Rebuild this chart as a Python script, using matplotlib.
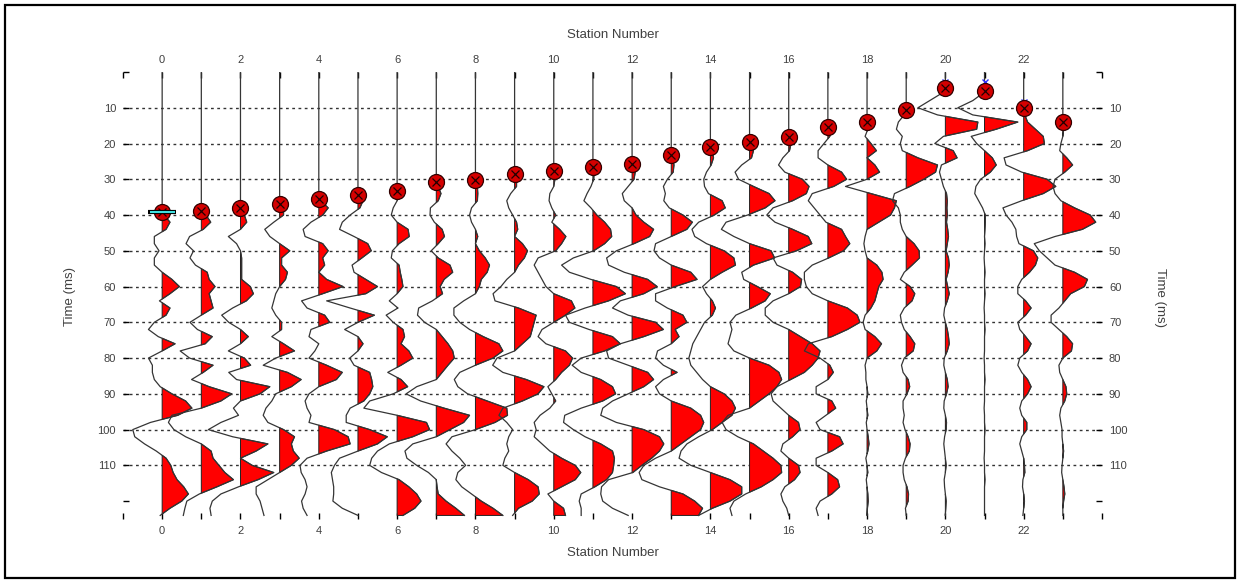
import numpy as np
import matplotlib
matplotlib.use('Agg')
import matplotlib.pyplot as plt
from matplotlib.patches import Rectangle

plt.rcParams['font.family'] = ['Liberation Sans', 'DejaVu Sans']

# sample times (ms), one sample every 2 ms
times = list(range(0, 125, 2))

# trace amplitudes (in station widths)
tr00 = [0, 0, 0, 0, 0, 0, 0, 0, 0, 0,
        0, 0, 0, 0, 0, 0, 0, 0, 0, 0,
        0.05, 0.2, 0.1, -0.2, -0.2, -0.08, -0.2, -0.2, 0, 0.25,
        0.44, 0.2, -0.07, 0.2, 0.1, -0.2, -0.35, -0.1, 0.33, 0,
        -0.35, -0.25, -0.25, -0.2, -0.05, 0.25, 0.6, 0.76, 0.4, -0.3,
        -0.75, -0.7, -0.45, -0.15, 0.1, 0.22, 0.28, 0.38, 0.55, 0.67,
        0.5, 0.2, -0.05]
tr01 = [0, 0, 0, 0, 0, 0, 0, 0, 0, 0,
        0, 0, 0, 0, 0, 0, 0, 0, 0, 0,
        0.12, 0.24, 0.05, -0.3, -0.39, -0.2, -0.29, -0.15, 0.15, 0.2,
        0.35, 0.2, 0.25, 0.3, 0, -0.29, -0.1, 0.28, 0.1, -0.54,
        -0.3, 0.3, 0.05, -0.25, 0.2, 0.78, 0.5, 0, -0.75, -0.84,
        -0.7, -0.4, 0, 0.25, 0.3, 0.45, 0.6, 0.82, 0.4, -0.05,
        -0.37, -0.42, -0.46]
tr02 = [0, 0, 0, 0, 0, 0, 0, 0, 0, 0,
        0, 0, 0, 0, 0, 0, 0, 0, 0, 0,
        0.1, 0.16, 0, -0.31, -0.1, 0, 0.03, 0.03, 0.03, 0.03,
        0.25, 0.33, 0.15, -0.2, -0.48, -0.3, 0, 0.2, 0, -0.31,
        0.1, 0.26, -0.3, -0.1, 0.75, 0.5, 0, -0.18, -0.05, -0.5,
        -0.82, -0.2, 0.7, 0.4, 0, 0.3, 0.85, 0.45, -0.05, -0.5,
        -0.72, -0.78, -0.75]
tr03 = [0, 0, 0, 0, 0, 0, 0, 0, 0, 0,
        0, 0, 0, 0, 0, 0, 0, 0, 0, 0.1,
        0.1, -0.15, -0.38, -0.25, 0, 0.26, 0.05, 0.05, 0.2, 0.15,
        0, -0.1, -0.15, -0.2, -0.1, 0.05, 0.05, -0.2, 0.1, 0.38,
        -0.1, -0.42, 0.2, 0.55, 0.3, -0.1, -0.2, -0.35, -0.42, -0.3,
        0.1, 0.38, 0.3, 0.35, 0.5, 0.3, 0, -0.3, -0.6, -0.6,
        -0.5, -0.45, -0.4]
tr04 = [0, 0, 0, 0, 0, 0, 0, 0, 0, 0,
        0, 0, 0, 0, 0, 0, 0, 0, 0.05, 0.24,
        0.1, -0.2, -0.4, -0.35, 0.1, 0.24, 0.1, 0.15, 0, 0.2,
        0.62, 0.1, -0.44, -0.3, 0.15, 0.28, -0.2, -0.25, 0, -0.1,
        -0.25, 0.2, 0.6, 0.45, 0, -0.25, -0.35, -0.3, -0.2, -0.25,
        0.4, 0.75, 0.8, 0.2, -0.3, -0.48, -0.45, -0.35, -0.3, -0.35,
        -0.44, -0.4, -0.3]
tr05 = [0, 0, 0, 0, 0, 0, 0, 0, 0, 0,
        0, 0, 0, 0, 0, 0, 0, 0, 0.13, 0.05,
        -0.2, -0.4, -0.47, -0.1, 0.25, 0.34, 0.1, -0.15, -0.1, 0.2,
        0.5, 0.2, -0.8, -0.2, 0.42, 0, -0.34, 0, 0.13, 0,
        -0.21, -0.1, 0.3, 0.35, 0.38, 0.3, 0.15, -0.2, -0.3, -0.3,
        0.3, 0.75, 0.5, 0, -0.47, -0.6, -0.68, -0.65, -0.62, -0.62,
        -0.64, -0.4, 0]
tr06 = [0, 0, 0, 0, 0, 0, 0, 0, 0, 0,
        0, 0, 0, 0, 0, 0, 0, 0.05, 0, -0.1,
        -0.15, 0, 0.28, 0.31, 0.05, -0.12, -0.15, 0.05, 0.08, 0.12,
        0.15, 0, -0.2, 0.02, -0.28, -0.1, 0.15, 0.19, 0.1, 0.3,
        0.4, 0.1, -0.24, 0.1, 0.27, -0.1, -0.7, -0.85, 0, 0.75,
        0.83, 0.4, -0.2, -0.5, -0.65, -0.7, -0.4, 0.05, 0.3, 0.5,
        0.61, 0.45, 0.15]
tr07 = [0, 0, 0, 0, 0, 0, 0, 0, 0, 0,
        0, 0, 0, 0, 0, 0, 0.05, 0.12, 0.05, -0.15,
        -0.16, -0.05, 0.15, 0.21, 0.05, -0.13, 0.05, 0.35, 0.42, 0.2,
        0.1, 0.16, -0.1, -0.45, -0.48, -0.3, 0, 0.15, 0.3, 0.42,
        0.46, 0.3, 0.15, 0, -0.5, -0.77, -0.4, 0.2, 0.85, 0.7,
        0.35, 0, -0.6, -0.8, -0.75, -0.5, -0.2, 0, 0.02, 0.05,
        0.25, 0.5, 0.72]
tr08 = [0, 0, 0, 0, 0, 0, 0, 0, 0, 0,
        0, 0, 0, 0, 0, 0, 0.05, 0.06, 0.05, -0.1,
        -0.15, -0.1, 0, 0.06, 0, 0.1, 0.25, 0.36, 0.3, 0.15,
        0.1, 0, -0.3, -0.55, -0.55, -0.4, -0.15, 0.2, 0.6, 0.7,
        0.45, 0, -0.4, -0.54, -0.45, -0.2, 0.3, 0.8, 0.82, 0.5,
        0, -0.6, -0.75, -0.6, -0.4, -0.25, -0.45, -0.5, -0.35, -0.1,
        0.15, 0.45, 0.7]
tr09 = [0, 0, 0, 0, 0, 0, 0, 0, 0, 0,
        0, 0, 0, 0, 0, 0.05, 0.05, -0.1, -0.2, -0.15,
        -0.05, 0.05, 0.08, 0, 0.2, 0.33, 0.25, 0.1, 0, -0.2,
        -0.35, -0.55, -0.5, 0.1, 0.55, 0.5, 0.45, 0.4, 0.2, 0,
        -0.45, -0.56, -0.3, 0.3, 0.75, 0.6, 0.2, -0.3, -0.4, -0.2,
        -0.05, -0.15, -0.2, -0.15, -0.25, -0.3, 0, 0.35, 0.6, 0.63,
        0.45, 0.1, -0.05]
tr10 = [0, 0, 0, 0, 0, 0, 0, 0, 0, 0,
        0, 0, 0, 0, 0.03, 0.03, 0, -0.1, -0.12, -0.05,
        0.05, -0.05, 0.15, 0.31, 0.2, 0.05, -0.4, -0.5, -0.4, -0.3,
        -0.2, 0, 0.45, 0.54, 0.3, 0, -0.3, -0.4, -0.2, 0.3,
        0.48, 0.4, 0.2, 0.05, -0.15, -0.05, 0.05, -0.1, -0.35, -0.5,
        -0.45, -0.5, -0.3, -0.1, 0.2, 0.55, 0.69, 0.55, 0.2, -0.15,
        0, 0.25, 0.3]
tr11 = [0, 0, 0, 0, 0, 0, 0, 0, 0, 0,
        0, 0, 0, 0, 0.03, 0.02, -0.05, -0.15, -0.23, -0.05,
        0.1, 0.3, 0.45, 0.48, 0.3, 0.02, -0.5, -0.8, -0.6, -0.05,
        0.6, 0.83, 0.4, -0.2, -0.7, -0.6, -0.1, 0.5, 0.7, 0.3,
        -0.3, -0.53, -0.3, 0.2, 0.5, 0.58, 0.25, -0.3, -0.72, -0.75,
        -0.5, -0.2, 0.2, 0.5, 0.55, 0.53, 0.5, 0.35, 0.05, -0.3,
        -0.35, -0.3, -0.3]
tr12 = [0, 0, 0, 0, 0, 0, 0, 0, 0, 0,
        0, 0, 0, 0, 0.08, 0.05, -0.1, -0.25, -0.2, 0,
        0.1, 0.3, 0.55, 0.45, 0.05, -0.4, -0.65, -0.6, -0.2, 0.4,
        0.64, 0.3, -0.3, -0.5, -0.1, 0.6, 0.8, 0.3, -0.3, -0.65,
        -0.6, -0.1, 0.4, 0.55, 0.3, -0.1, -0.5, -0.75, -0.8, -0.4,
        0.3, 0.7, 0.81, 0.7, 0.5, 0.25, 0.02, -0.6, -0.78, -0.8,
        -0.75, -0.5, -0.1]
tr13 = [0, 0, 0, 0, 0, 0, 0, 0, 0, 0,
        0, 0, 0.03, 0.07, 0.05, -0.1, -0.2, -0.15, -0.19, -0.05,
        0.3, 0.54, 0.4, 0, -0.4, -0.44, -0.3, 0, 0.5, 0.66,
        0.1, -0.4, -0.4, -0.1, 0.3, 0.4, 0.1, 0.2, 0, -0.35,
        -0.4, -0.2, 0.15, -0.2, -0.4, -0.3, 0, 0.5, 0.75, 0.83,
        0.75, 0.5, 0.25, 0, -0.4, -0.7, -0.82, -0.75, -0.3, 0.3,
        0.6, 0.8, 0.7]
tr14 = [0, 0, 0, 0, 0, 0, 0, 0, 0, 0,
        0, 0.05, 0.08, 0.02, -0.1, -0.17, -0.15, -0.05, 0.3, 0.38,
        0.1, -0.3, -0.47, -0.4, -0.1, 0.35, 0.6, 0.64, 0.3, 0,
        -0.2, -0.1, 0.05, 0.13, 0.05, -0.15, -0.25, -0.35, -0.45, -0.5,
        -0.55, -0.5, -0.35, -0.2, 0, 0.35, 0.55, 0.64, 0.55, 0.3,
        0.05, -0.3, -0.6, -0.75, -0.8, -0.5, 0, 0.5, 0.8, 0.8,
        0.5, 0.05, -0.3]
tr15 = [0, 0, 0, 0, 0, 0, 0, 0, 0, 0,
        0.03, 0.1, 0.05, -0.2, -0.37, -0.28, 0.1, 0.5, 0.65, 0.4,
        -0.05, -0.6, -0.72, -0.4, 0, 0.55, 0.64, 0.1, -0.2, -0.15,
        0.2, 0.53, 0.4, 0.05, -0.35, -0.5, -0.45, -0.5, -0.55, -0.4,
        0, 0.5, 0.75, 0.82, 0.7, 0.5, 0.25, 0, -0.55, -0.7,
        -0.6, -0.3, 0.1, 0.35, 0.6, 0.8, 0.82, 0.6, 0.3, -0.1,
        -0.4, -0.5, -0.45]
tr16 = [0, 0, 0, 0, 0, 0, 0, 0, 0, 0.02,
        0.06, 0.02, -0.15, -0.26, -0.1, 0.35, 0.52, 0.45, 0.1, -0.4,
        -0.56, -0.35, 0.1, 0.5, 0.59, 0.2, -0.4, -0.3, 0.1, 0.33,
        0.3, 0, -0.4, -0.6, -0.6, -0.4, 0, 0.3, 0.6, 0.8,
        0.75, 0.6, 0.4, 0.05, -0.3, -0.45, -0.4, -0.2, 0, 0.25,
        0.29, 0.1, -0.15, -0.2, 0, 0.25, 0.29, 0.15, -0.1, -0.2,
        -0.15, -0.05, 0]
tr17 = [0, 0, 0, 0, 0, 0, 0, 0, 0.03, 0.05,
        -0.1, -0.25, -0.25, 0, 0.35, 0.48, 0.15, -0.4, -0.5, -0.35,
        -0.2, -0.05, 0.35, 0.45, 0.56, 0.4, 0.02, -0.4, -0.6, -0.6,
        -0.55, -0.4, 0, 0.5, 0.75, 0.82, 0.5, 0.1, -0.5, -0.6,
        -0.2, 0.05, 0.14, 0, -0.3, -0.3, 0.1, 0.2, -0.05, -0.3,
        -0.2, 0.3, 0.39, 0.1, -0.3, -0.3, 0, 0.25, 0.3, 0.1,
        -0.2, -0.3, -0.25]
tr18 = [0, 0, 0, 0, 0, 0, 0, 0, 0.02, -0.05,
        0.1, 0.24, 0, 0.2, 0.32, 0, -0.55, 0.1, 0.75, 0.7,
        0.6, 0.3, 0, -0.05, -0.08, -0.05, 0, 0.25, 0.38, 0.41,
        0.3, 0.25, 0.2, 0.1, -0.05, -0.1, -0.05, 0.2, 0.37, 0.25,
        0, -0.05, -0.03, -0.03, 0, 0.02, -0.02, 0, 0.02, -0.02,
        0, 0.03, 0.05, 0.02, -0.03, 0, 0.02, -0.02, 0, 0.02,
        0.03, 0.01, 0]
tr19 = [0, 0, 0, 0, 0, 0, -0.05, -0.2, -0.25, -0.1,
        -0.15, -0.1, 0.3, 0.8, 0.75, 0.45, 0.1, -0.3, -0.35, -0.2,
        -0.15, -0.15, -0.1, 0, 0.2, 0.33, 0.34, 0.15, -0.05, -0.15,
        0.1, 0.22, 0.15, -0.05, -0.15, -0.12, -0.05, 0.1, 0.22, 0.18,
        -0.05, -0.12, -0.08, 0.05, 0.09, 0.02, -0.08, -0.08, -0.05, -0.08,
        -0.03, 0.05, 0.1, 0.08, -0.02, -0.08, -0.08, -0.05, 0.02, 0.06,
        0.05, -0.02, 0]
tr20 = [0, 0, 0, -0.1, -0.4, -0.7, -0.2, 0.83, 0.8, -0.05,
        -0.27, 0.2, 0.3, -0.1, -0.15, -0.1, -0.05, 0.03, 0.05, 0.04,
        0.05, 0.03, 0.06, 0.08, 0.05, 0.02, 0.08, 0.1, 0.07, 0.02,
        0.06, 0.1, 0.05, -0.02, -0.04, 0, 0.05, 0.08, 0.1, 0.05,
        -0.03, -0.04, 0, 0.05, 0.07, 0.03, -0.03, -0.04, 0, 0.03,
        0.02, -0.02, -0.04, -0.02, 0, 0.02, 0, -0.03, -0.02, 0,
        0.02, 0.01, 0]
tr21 = [0, 0, 0, -0.05, -0.3, -0.68, -0.3, 0.85, 0.3, -0.34,
        -0.2, 0, 0.2, 0.3, 0.15, -0.1, -0.22, -0.25, -0.15, -0.05,
        0.02, 0.02, 0.01, 0, 0.01, 0, -0.01, 0, 0.01, 0,
        0, 0.01, 0, -0.01, 0, 0, 0.01, 0, 0, 0,
        -0.01, 0, 0, 0.01, 0, 0, 0, -0.01, 0, 0,
        0.01, 0, 0, 0, -0.01, 0, 0, 0.01, 0, 0,
        0, 0, 0]
tr22 = [0, 0, 0, 0, 0, 0, 0.03, 0.1, 0.3, 0.5,
        0.53, 0.1, -0.5, -0.45, -0.05, 0.6, 0.82, 0.5, -0.05, -0.53,
        -0.45, -0.3, -0.2, -0.18, -0.12, 0.25, 0.36, 0.3, 0.15, -0.05,
        -0.15, -0.15, 0.05, 0.19, 0.05, -0.15, -0.1, 0.05, 0.19, 0.1,
        -0.1, -0.15, -0.05, 0.1, 0.19, 0.1, -0.05, -0.1, -0.05, 0.08,
        0.08, -0.05, -0.1, -0.05, 0, 0.02, 0.03, -0.02, -0.03, 0,
        0.02, 0, -0.02]
tr23 = [0, 0, 0, 0, 0, 0, 0, 0, 0.02, 0,
        -0.05, -0.08, 0.1, 0.25, 0.05, -0.2, -0.25, -0.2, -0.05, 0.3,
        0.7, 0.84, 0.5, -0.2, -0.73, -0.6, -0.4, -0.2, 0.3, 0.63,
        0.55, 0.2, 0.05, -0.1, -0.3, -0.3, -0.1, 0.1, 0.25, 0.22,
        0, -0.1, -0.08, 0, 0.08, 0.1, 0.05, -0.05, -0.08, -0.05,
        -0.02, -0.02, 0, 0.02, 0, -0.02, -0.03, 0, 0.03, 0.05,
        0.02, 0, 0]

traces = [tr00, tr01, tr02, tr03, tr04, tr05, tr06, tr07, tr08, tr09, tr10, tr11,
          tr12, tr13, tr14, tr15, tr16, tr17, tr18, tr19, tr20, tr21, tr22, tr23]
stations = list(range(24))

# first break picks (ms)
picks = [39.1, 38.9, 38.1, 36.9, 35.6, 34.5, 33.2, 30.9, 30.2, 28.5, 27.6, 26.5,
         25.8, 23.3, 20.9, 19.5, 18.1, 15.3, 14.1, 10.6, 4.6, 5.2, 10.2, 13.9]

# small blue marks above a few picks
qc_stations = [20, 21, 22]
qc_times = [2.7, 2.7, 8.4]

grid_times = [10, 20, 30, 40, 50, 60, 70, 80, 90, 100, 110]

fig = plt.figure(figsize=(12.37, 5.83), dpi=100)
ax = fig.add_axes([123 / 1237, 1 - 519 / 583, (1102 - 123) / 1237, (519 - 72) / 583])

t = np.array(times, dtype=float)
for st, amp in zip(stations, traces):
    a = np.array(amp, dtype=float)
    ax.fill_betweenx(t, st, st + a, where=a > 0, interpolate=True,
                     facecolor='red', edgecolor='#202020', lw=0.7, zorder=2)
    ax.plot(st + a, t, color='#353535', lw=0.9, zorder=3)

for g in grid_times:
    ax.axhline(g, color='#333333', lw=1.0, ls=(0, (2, 2.5)), zorder=1)

ax.plot(qc_stations, qc_times, 'x', ms=5, color='#3030ff', mew=1.0, zorder=4)
ax.plot(stations, picks, 'o', ms=11.5, mfc='#d40000', mec='#300000', mew=0.9, zorder=5)
ax.plot(stations, picks, 'x', ms=5.5, color='#200000', mew=0.9, zorder=6)

# cyan cursor on the first trace
ax.plot([stations[0] - 0.35, stations[0] + 0.35], [picks[0], picks[0]],
        color='black', lw=3, zorder=7, solid_capstyle='butt')
ax.plot([stations[0] - 0.32, stations[0] + 0.32], [picks[0], picks[0]],
        color='#40e0e0', lw=1.5, zorder=8, solid_capstyle='butt')

ax.set_xlim(-1, 24)
ax.set_ylim(125, 0)
xt = list(range(-1, 25))
ax.set_xticks(xt)
ax.set_xticklabels([str(v) if (v % 2 == 0 and 0 <= v <= 22) else '' for v in xt])
yt = list(range(0, 121, 10))
ax.set_yticks(yt)
ax.set_yticklabels([str(v) if 0 < v < 120 else '' for v in yt])
ax.tick_params(direction='in', length=4, width=1, top=True, right=True,
               labeltop=True, labelright=True, labelsize=8, labelcolor='#404040', pad=5)
for s in ax.spines.values():
    s.set_visible(False)

tc = '#404040'
fig.text(613 / 1237, 1 - 35 / 583, 'Station Number', ha='center', va='center', fontsize=9.5, color=tc)
fig.text(613 / 1237, 1 - 553 / 583, 'Station Number', ha='center', va='center', fontsize=9.5, color=tc)
fig.text(70 / 1237, 1 - 297 / 583, 'Time (ms)', ha='center', va='center', rotation=90, fontsize=9.5, color=tc)
fig.text(1160 / 1237, 1 - 297 / 583, 'Time (ms)', ha='center', va='center', rotation=270, fontsize=9.5, color=tc)

fig.patches.append(Rectangle((5 / 1237, 5 / 583), 1230 / 1237, 573 / 583, transform=fig.transFigure,
                             fill=False, edgecolor='black', lw=1.6))

fig.savefig('out.png', dpi=100)
